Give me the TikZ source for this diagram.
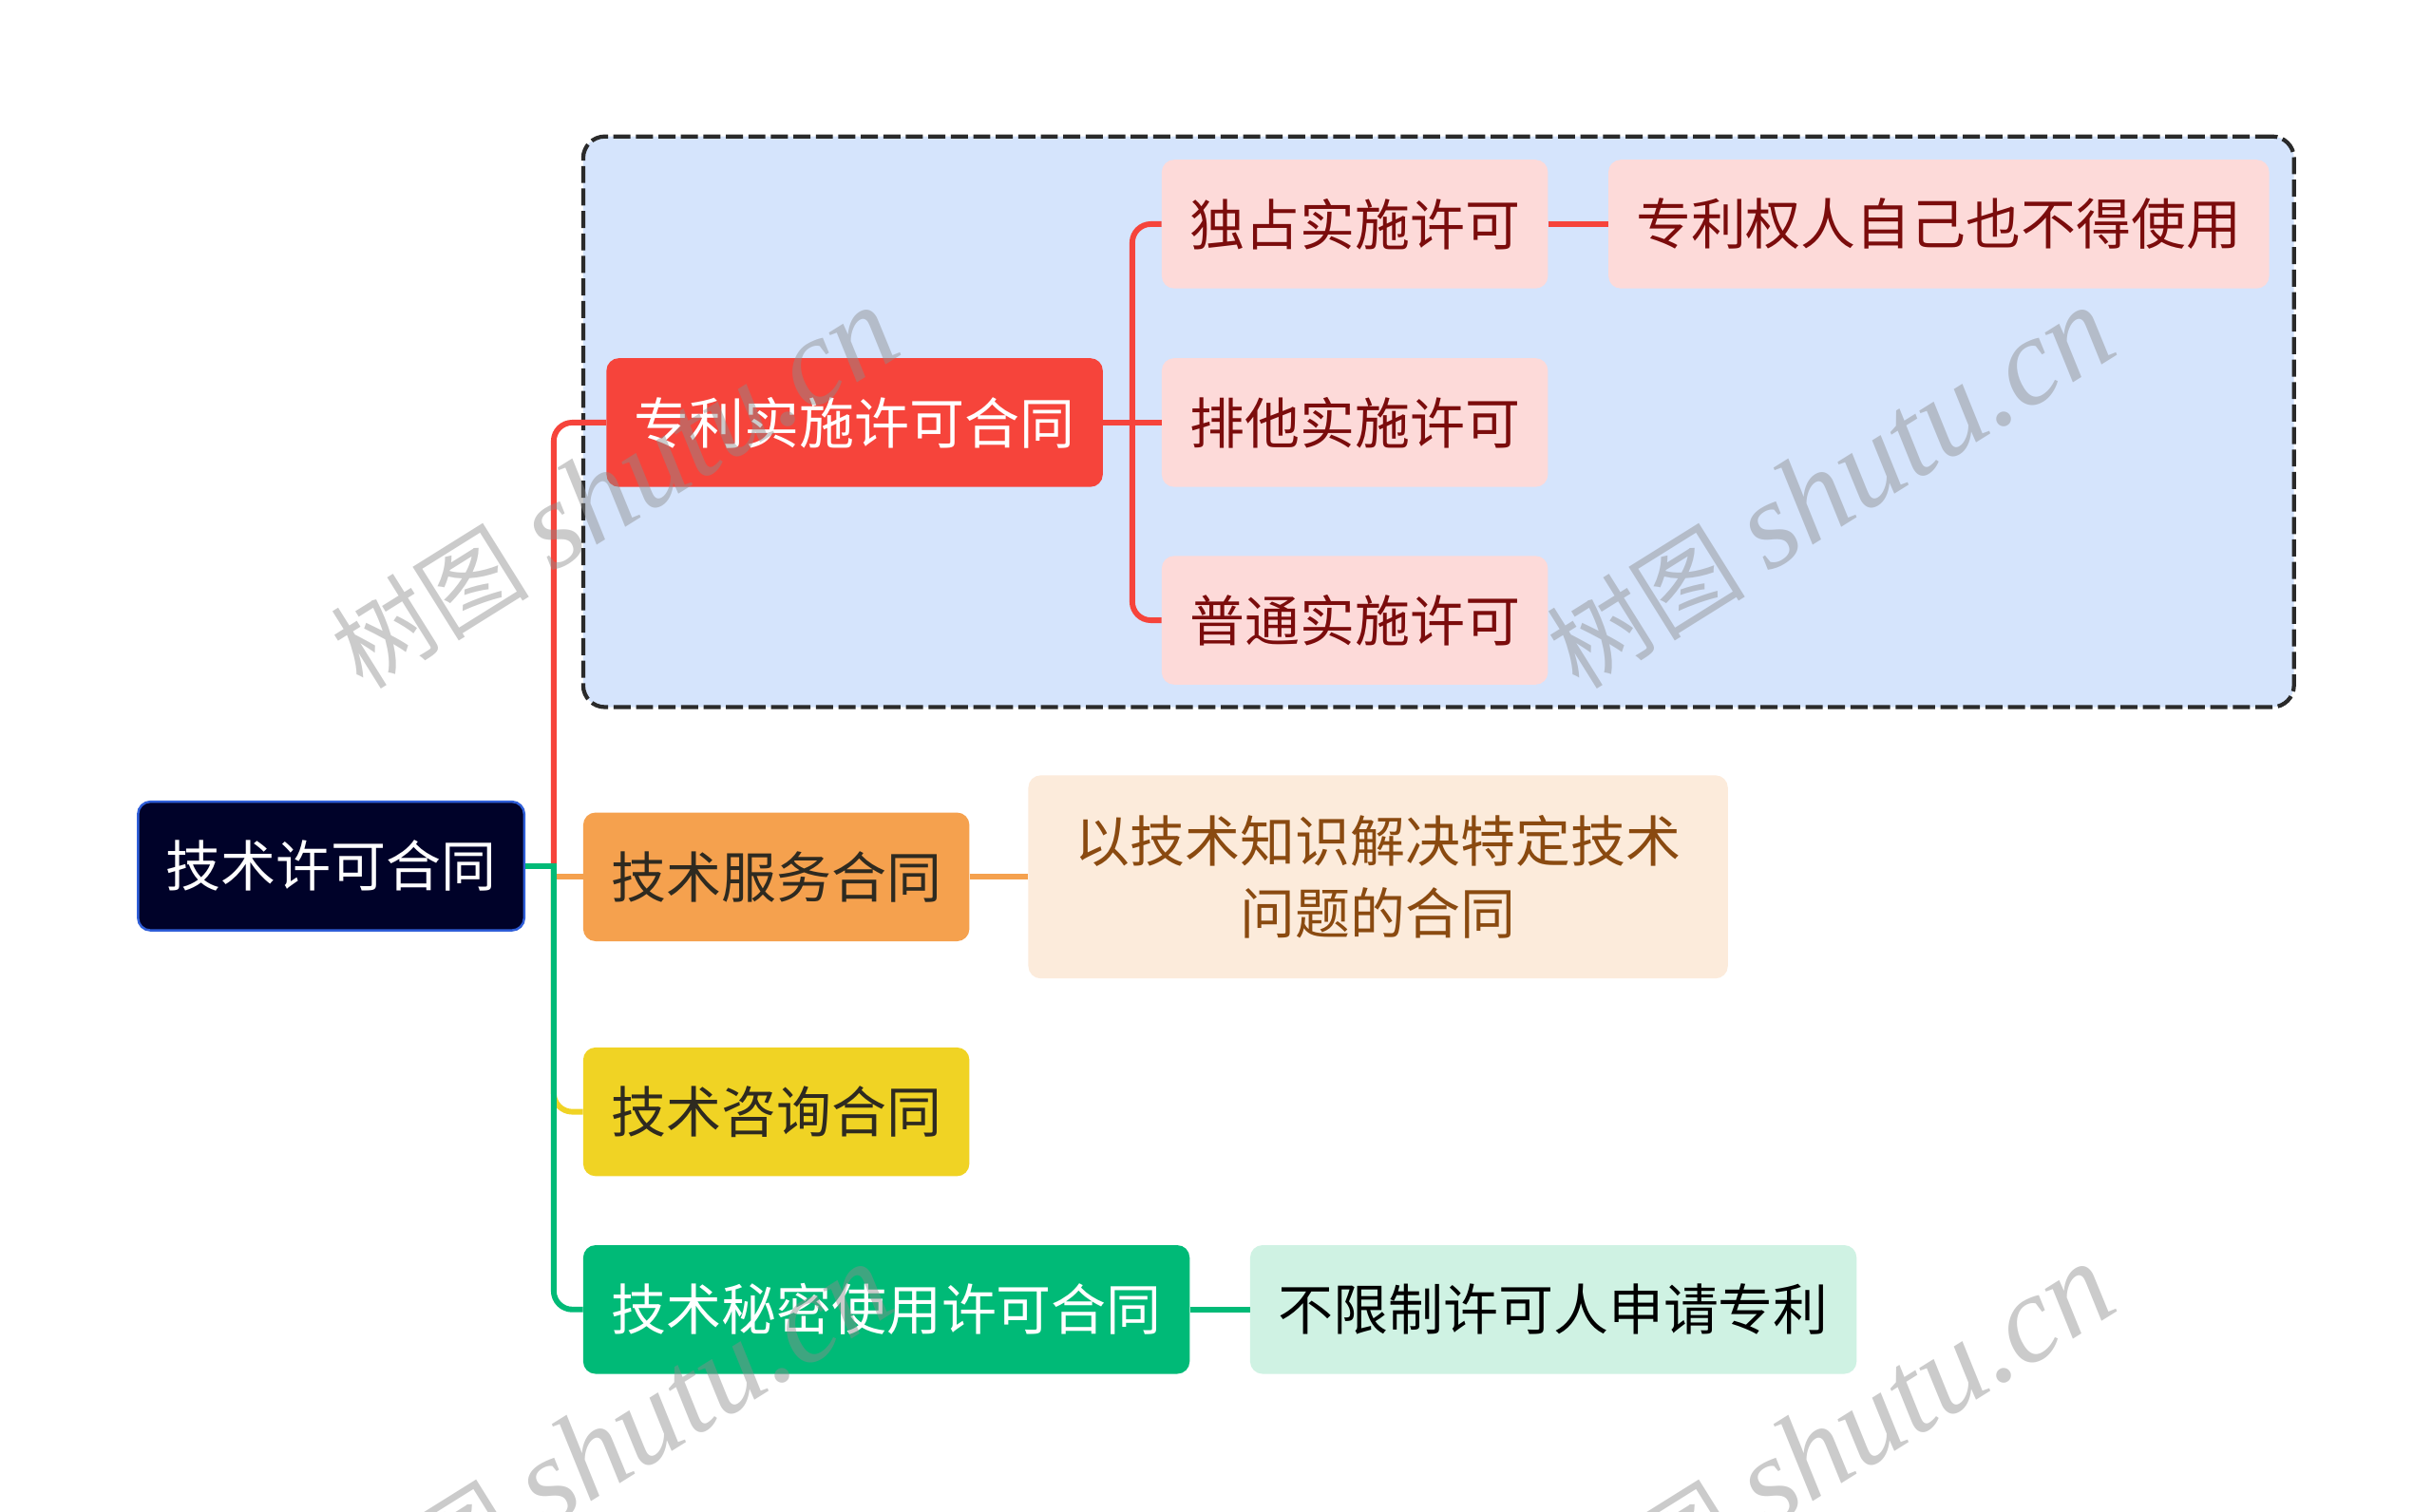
\documentclass[tikz,border=0pt]{standalone}
\usepackage{fontspec}
\newfontfamily\cjk{Noto Sans CJK SC}
\newfontfamily\wmlatin{Liberation Serif}
\definecolor{rootfill}{HTML}{000229}
\definecolor{rootborder}{HTML}{2F5ED8}
\definecolor{grpfill}{HTML}{D5E4FC}
\definecolor{grpborder}{HTML}{2A2A2A}
\definecolor{cred}{HTML}{F6443B}
\definecolor{cpink}{HTML}{FDDAD9}
\definecolor{tdarkred}{HTML}{7B0C0C}
\definecolor{corange}{HTML}{F5A14E}
\definecolor{cbeige}{HTML}{FCEBDB}
\definecolor{tbrown}{HTML}{8A4A10}
\definecolor{cyellow}{HTML}{F0D324}
\definecolor{cgreen}{HTML}{00BA77}
\definecolor{cmint}{HTML}{CFF2E3}
\definecolor{tdark}{HTML}{2E2A20}
\tikzset{
  box/.style={rounded corners=8pt, minimum height=83pt, inner sep=0pt, align=center,
    font=\cjk\fontsize{35.5}{47}\selectfont},
  conn/.style={line width=3.6pt, rounded corners=12pt},
  wm/.style={rotate=32, text=black!45, opacity=0.45, inner sep=0pt}
}
\newcommand{\wmtext}{{\cjk\fontsize{64}{64}\selectfont 树图}\hspace{16pt}{\wmlatin\itshape\fontsize{80}{80}\selectfont shutu.cn}}
\begin{document}
\begin{tikzpicture}[x=1pt,y=-1pt]
\useasboundingbox (0,0) rectangle (1568,975);
\fill[white] (0,0) rectangle (1568,975);

% group box
\node[draw=grpborder, fill=grpfill, line width=2.6pt, dash pattern=on 11pt off 3.5pt,
      rounded corners=14pt, minimum width=1103pt, minimum height=368pt, inner sep=0pt]
      (grp) at (927.5,272) {};

% nodes
\node[box, fill=rootfill, draw=rootborder, line width=1.5pt, text=white, minimum width=249pt] (root) at (213.5,558.5) {技术许可合同};
\node[box, fill=cred, text=white, minimum width=320pt] (pat) at (551,272.5) {专利实施许可合同};
\node[box, fill=cpink, text=tdarkred, minimum width=249pt] (excl) at (873.5,144.5) {独占实施许可};
\node[box, fill=cpink, text=tdarkred, minimum width=426pt] (exclnote) at (1250,144.5) {专利权人自己也不得使用};
\node[box, fill=cpink, text=tdarkred, minimum width=249pt] (sole) at (873.5,272.5) {排他实施许可};
\node[box, fill=cpink, text=tdarkred, minimum width=249pt] (gen) at (873.5,400) {普通实施许可};
\node[box, fill=corange, text=tdark, minimum width=249pt] (svc) at (500.5,565.5) {技术服务合同};
\node[box, fill=cbeige, text=tbrown, minimum width=451pt, minimum height=131pt] (svcnote) at (888.5,565.5) {以技术知识解决特定技术\\问题的合同};
\node[box, fill=cyellow, text=tdark, minimum width=249pt] (cons) at (500.5,717) {技术咨询合同};
\node[box, fill=cgreen, text=white, minimum width=391pt] (sec) at (571.5,844.5) {技术秘密使用许可合同};
\node[box, fill=cmint, text=black, minimum width=391pt] (secnote) at (1001.5,844.5) {不限制许可人申请专利};

% trunks
\coordinate (tk) at (357,558.5);
\coordinate (st) at (730,272.5);

% connectors from root
\draw[conn, cred] (tk) |- (pat.west);
\draw[conn, cyellow] (tk) |- (cons.west);
\draw[conn, corange] (tk |- svc.west) -- (svc.west);
\draw[conn, cgreen] (tk) |- (sec.west);
\draw[conn, cgreen, sharp corners] (root.east) -- ([xshift=1.8pt]tk);

% red sub-branches
\draw[conn, cred] (st) |- (excl.west);
\draw[conn, cred] (st) |- (gen.west);
\draw[conn, cred] (pat.east) -- (sole.west);

% notes
\draw[conn, cred] (excl.east) -- (exclnote.west);
\draw[conn, corange] (svc.east) -- (svcnote.west);
\draw[conn, cgreen] (sec.east) -- (secnote.west);

% watermarks
\begin{scope}
\clip (0,0) rectangle (1568,975);
\node[wm] (wm1) at (396,315) {\wmtext};
\node[wm] (wm2) at (1180,315) {\wmtext};
\node[wm] (wm3) at (392,932) {\wmtext};
\node[wm] (wm4) at (1180,932) {\wmtext};
\end{scope}
\end{tikzpicture}
\end{document}
